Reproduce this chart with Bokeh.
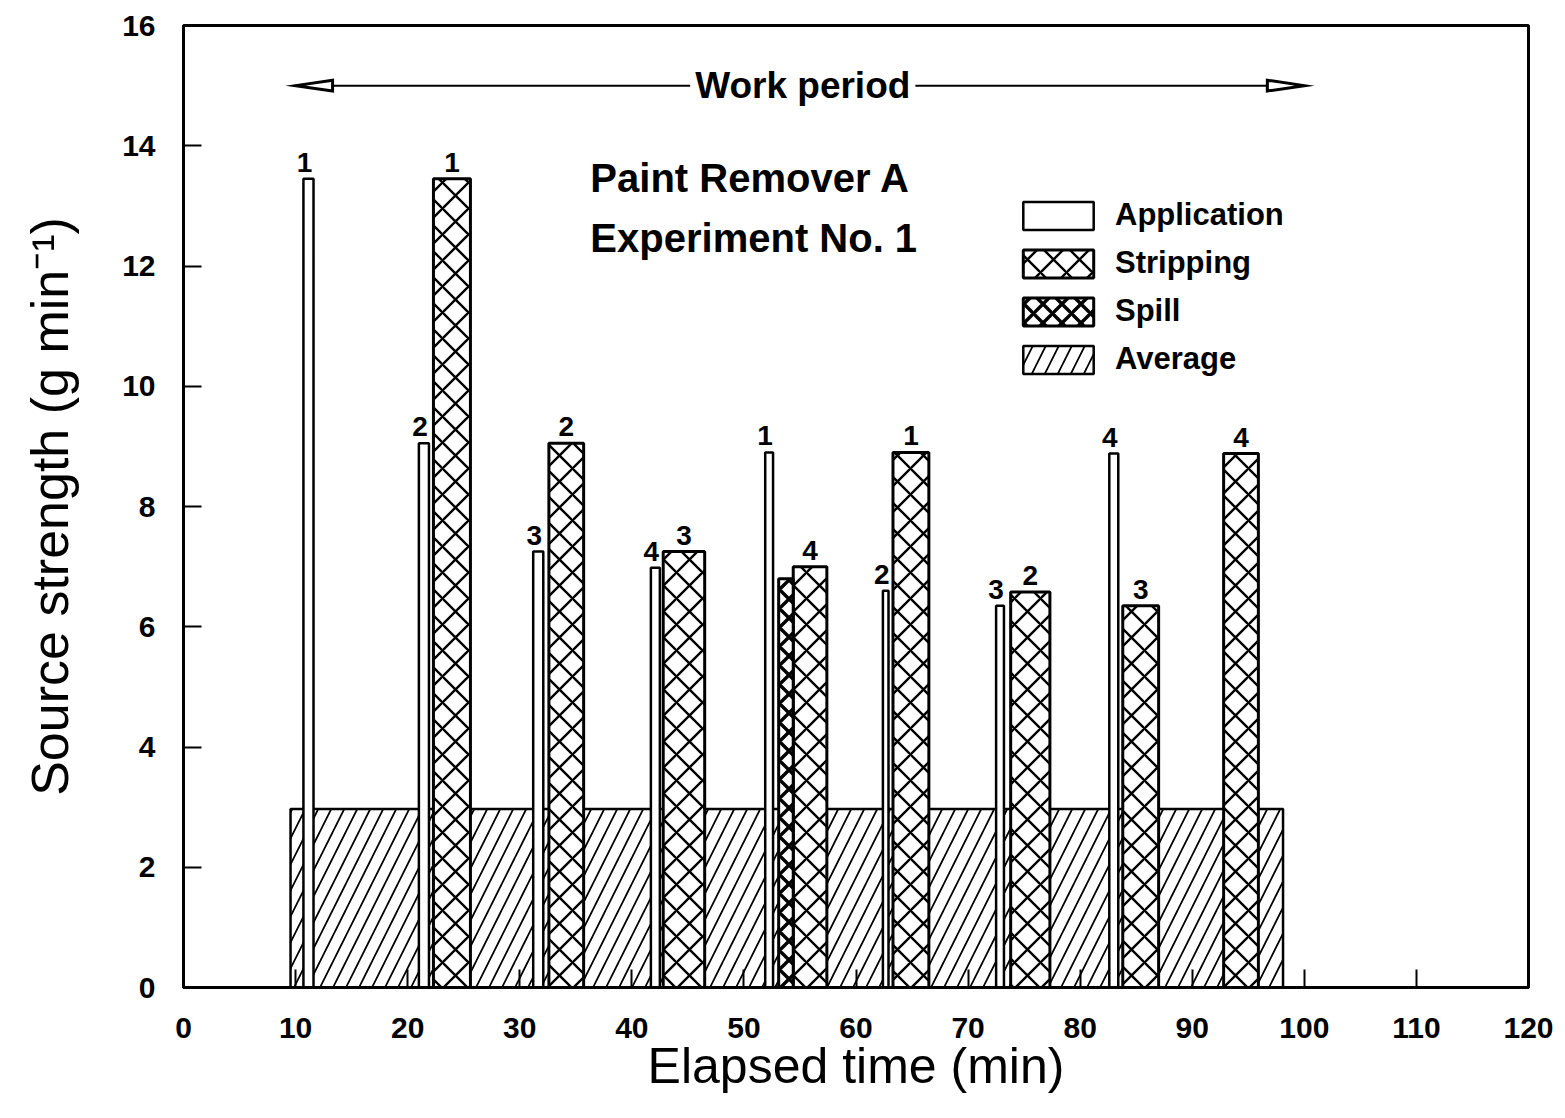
from bokeh.plotting import figure
from bokeh.models import (ColumnDataSource, Legend, LegendItem, Range1d, FixedTicker, Label)
from bokeh.core.properties import value
from bokeh.embed import file_html
from bokeh.resources import INLINE

# ---------------- data ----------------
app_start = [10.7, 21.0, 31.2, 41.7, 51.9, 62.4, 72.5, 82.6]
app_end = [11.6, 21.9, 32.1, 42.5, 52.6, 62.9, 73.2, 83.4]
app_value = [13.45, 9.05, 7.25, 6.98, 8.90, 6.60, 6.35, 8.88]
app_label = ["1", "2", "3", "4", "1", "2", "3", "4"]

strip_start = [22.3, 32.6, 42.8, 54.4, 63.3, 73.8, 83.8, 92.8]
strip_end = [25.6, 35.7, 46.5, 57.4, 66.5, 77.3, 87.0, 95.9]
strip_value = [13.45, 9.05, 7.25, 7.00, 8.90, 6.58, 6.35, 8.88]
strip_label = ["1", "2", "3", "4", "1", "2", "3", "4"]

spill_start = [53.1]
spill_end = [54.4]
spill_value = [6.8]

avg_start = [9.55]
avg_end = [98.1]
avg_value = [2.97]

work_start = 10.0
work_end = 100.0
work_level = 15.0

x_ticks = [0, 10, 20, 30, 40, 50, 60, 70, 80, 90, 100, 110, 120]
y_ticks = [0, 2, 4, 6, 8, 10, 12, 14, 16]

FONT = "Liberation Sans"

p = figure(width=1557, height=1107, output_backend="svg", toolbar_location=None,
           x_range=Range1d(0, 120), y_range=Range1d(0, 16),
           min_border_left=183, min_border_right=29, min_border_top=25, min_border_bottom=120)
p.grid.visible = False
p.outline_line_color = "black"
p.outline_line_width = 3
p.background_fill_color = "white"
p.border_fill_color = "white"

for ax in (p.xaxis, p.yaxis):
    ax.axis_line_width = 3
    ax.major_tick_line_width = 2
    ax.major_tick_in = 18
    ax.major_tick_out = 0
    ax.minor_tick_in = 0
    ax.minor_tick_out = 0
    ax.major_label_text_font = FONT
    ax.major_label_text_font_style = "bold"
    ax.major_label_text_font_size = "30px"
    ax.major_label_text_color = "black"
    ax.axis_label_text_font = FONT
    ax.axis_label_text_font_style = "normal"
    ax.axis_label_text_color = "black"

p.xaxis.axis_label_text_font_size = "50px"
p.yaxis.axis_label_text_font_size = "52px"
p.xaxis.ticker = FixedTicker(ticks=x_ticks)
p.yaxis.ticker = FixedTicker(ticks=y_ticks)
p.xaxis.major_label_standoff = 30
p.yaxis.major_label_standoff = 28
p.xaxis.axis_label = "Elapsed time (min)"
p.yaxis.axis_label = "Source strength (g min\u207b\u00b9)"
p.xaxis.axis_label_standoff = -3
p.yaxis.axis_label_standoff = 40

# Average (background)
avg_src = ColumnDataSource(dict(left=avg_start, right=avg_end, top=avg_value, bottom=[0] * len(avg_value)))
r_avg = p.quad(left="left", right="right", top="top", bottom="bottom", source=avg_src,
               fill_color="white", line_color="black", line_width=2.5,
               hatch_pattern="/", hatch_color="black", hatch_weight=1.7, hatch_scale=26)

# Application
app_src = ColumnDataSource(dict(left=app_start, right=app_end, top=app_value, bottom=[0] * len(app_value),
                                xc=[(a + b) / 2 for a, b in zip(app_start, app_end)], lab=app_label))
r_app = p.quad(left="left", right="right", top="top", bottom="bottom", source=app_src,
               fill_color="white", line_color="black", line_width=2.5)

# Stripping
strip_src = ColumnDataSource(dict(left=strip_start, right=strip_end, top=strip_value,
                                  bottom=[0] * len(strip_value),
                                  xc=[(a + b) / 2 for a, b in zip(strip_start, strip_end)], lab=strip_label))
r_strip = p.quad(left="left", right="right", top="top", bottom="bottom", source=strip_src,
                 fill_color="white", line_color="black", line_width=3,
                 hatch_pattern="x", hatch_color="black", hatch_weight=2.4, hatch_scale=26)

# Spill
spill_src = ColumnDataSource(dict(left=spill_start, right=spill_end, top=spill_value, bottom=[0] * len(spill_value)))
r_spill = p.quad(left="left", right="right", top="top", bottom="bottom", source=spill_src,
                 fill_color="white", line_color="black", line_width=3,
                 hatch_pattern="x", hatch_color="black", hatch_weight=3.4, hatch_scale=19)

# bar number labels
p.text(x="xc", y="top", text="lab", source=app_src, text_font=value(FONT), text_font_style="bold",
       text_font_size="28px", text_align="center", text_baseline="bottom", x_offset=-4, y_offset=-7,
       text_color="black")
p.text(x="xc", y="top", text="lab", source=strip_src, text_font=value(FONT), text_font_style="bold",
       text_font_size="28px", text_align="center", text_baseline="bottom", y_offset=-7,
       text_color="black")

# Work period arrow
text_gap_left = 45.2
text_gap_right = 65.3
p.segment(x0=[work_start, text_gap_right], y0=[work_level, work_level],
          x1=[text_gap_left, work_end], y1=[work_level, work_level], line_color="black", line_width=2)
head_len = 3.3   # in x data units
head_half = 0.09  # in y data units
p.patches(xs=[[work_start, work_start + head_len, work_start + head_len],
              [work_end, work_end - head_len, work_end - head_len]],
          ys=[[work_level, work_level + head_half, work_level - head_half]] * 2,
          fill_color="white", line_color="black", line_width=3, line_join="miter")
p.add_layout(Label(x=(text_gap_left + text_gap_right) / 2, y=work_level, text="Work period",
                   text_font=FONT, text_font_style="bold", text_font_size="37px",
                   text_align="center", text_baseline="middle", text_color="black"))

# Title texts
p.add_layout(Label(x=36.3, y=13.46, text="Paint Remover A", text_font=FONT, text_font_style="bold",
                   text_font_size="40px", text_align="left", text_baseline="middle", text_color="black"))
p.add_layout(Label(x=36.3, y=12.46, text="Experiment No. 1", text_font=FONT, text_font_style="bold",
                   text_font_size="40px", text_align="left", text_baseline="middle", text_color="black"))

legend = Legend(items=[LegendItem(label="Application", renderers=[r_app]),
                       LegendItem(label="Stripping", renderers=[r_strip]),
                       LegendItem(label="Spill", renderers=[r_spill]),
                       LegendItem(label="Average", renderers=[r_avg])],
                location=(831, 610), glyph_width=88, glyph_height=35, label_height=35,
                spacing=12, padding=0, margin=0, label_standoff=13,
                label_text_font=FONT, label_text_font_style="bold", label_text_font_size="31px",
                label_text_color="black",
                border_line_alpha=0, background_fill_alpha=0)
p.add_layout(legend)

open("out.html", "w").write(file_html(p, INLINE))
